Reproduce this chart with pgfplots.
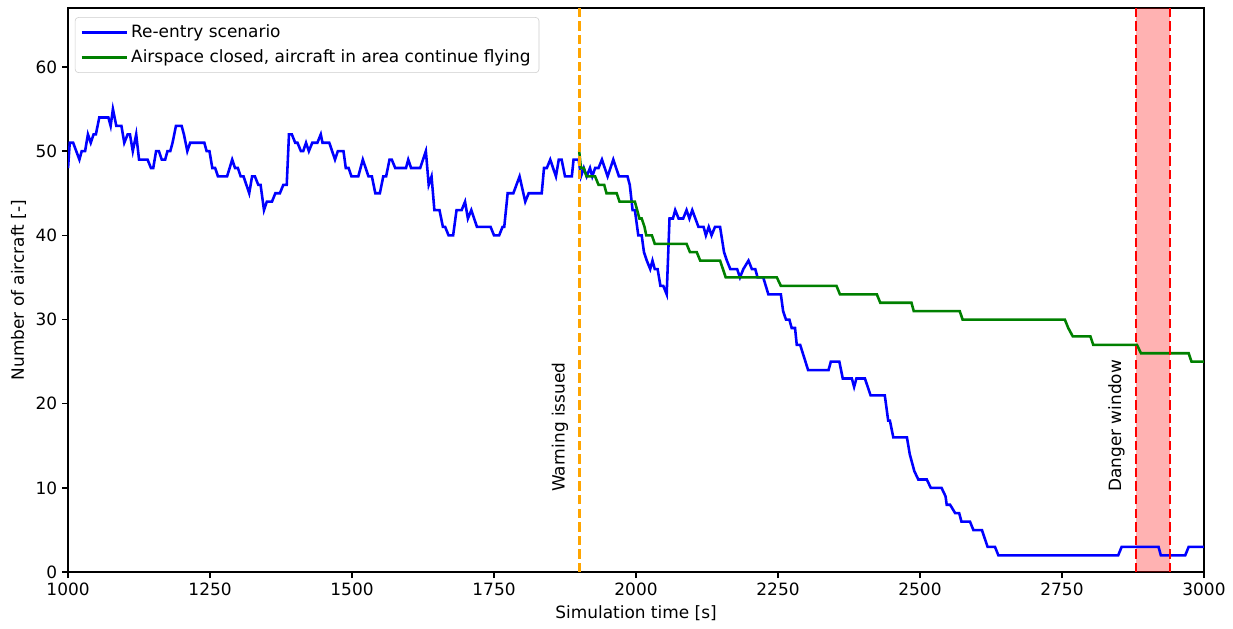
\documentclass[border=0pt]{standalone}
\usepackage{pgfplots}
\pgfplotsset{compat=1.18}
\usepackage{fontspec}
\setmainfont{DejaVu Sans}
\definecolor{mplgreen}{RGB}{0,128,0}
\definecolor{mplorange}{RGB}{255,165,0}
\newcommand{\mplfont}{\fontsize{12.2}{14.6}\selectfont}
\begin{document}
\begin{tikzpicture}
\useasboundingbox (-49pt,-40.3pt) rectangle (838.9pt,412pt);
\begin{axis}[
  scale only axis,
  width=818pt, height=406.2pt,
  xmin=1000, xmax=3000, ymin=0, ymax=67,
  xtick={1000,1250,1500,1750,2000,2250,2500,2750,3000},
  ytick={0,10,20,30,40,50,60},
  tick align=outside, tick pos=left,
  major tick length=4.3pt,
  every tick/.style={black, line width=1pt},
  axis line style={line width=1pt},
  /pgf/number format/assume math mode=true,
  /pgf/number format/1000 sep={},
  ticklabel style={font=\mplfont},
  label style={font=\mplfont},
  xlabel={Simulation time [s]},
  ylabel={Number of aircraft [-]},
  legend cell align=left,
  legend style={at={(0.006,0.984)}, anchor=north west, draw=black!20, rounded corners=2.5pt,
    fill=white, fill opacity=0.8, text opacity=1, font=\mplfont,
    inner xsep=4pt, inner ysep=3.5pt, row sep=3.3pt},
  legend image code/.code={\path (0pt,0pt) -- (32.5pt,0pt);\draw[#1, line width=1.85pt] (0pt,0pt) -- (24.5pt,0pt);},
]
% danger window shading
\addplot[draw=none, fill=red, fill opacity=0.3, forget plot] coordinates {(2880,0) (2940,0) (2940,67) (2880,67)} -- cycle;

\addplot[blue, line width=1.85pt] coordinates {
(1000,48) (1003,51) (1009,51) (1020,49) (1024,50) (1030,50) (1035,52) (1040,51) (1045,52) (1049,52)
(1055,54) (1071,54) (1075,53) (1079,55) (1085,53) (1094,53) (1099,51) (1105,52) (1109,52) (1114,50)
(1120,52) (1125,49) (1140,49) (1146,48) (1150,48) (1155,50) (1160,50) (1165,49) (1171,49) (1175,50)
(1180,50) (1184,51) (1190,53) (1200,53) (1204,52) (1210,50) (1215,51) (1240,51) (1244,50) (1249,50)
(1254,48) (1259,48) (1264,47) (1280,47) (1289,49) (1294,48) (1299,48) (1304,47) (1309,47) (1319,45)
(1324,47) (1329,47) (1335,46) (1339,46) (1345,43) (1350,44) (1359,44) (1365,45) (1373,45) (1379,46)
(1385,46) (1389,52) (1394,52) (1400,51) (1404,51) (1410,50) (1414,50) (1419,51) (1424,50) (1430,51)
(1439,51) (1445,52) (1448,51) (1460,51) (1470,49) (1475,50) (1485,50) (1489,48) (1494,48) (1499,47)
(1511,47) (1519,49) (1529,47) (1535,47) (1541,45) (1549,45) (1555,47) (1560,47) (1566,49) (1570,49)
(1576,48) (1595,48) (1599,49) (1604,48) (1620,48) (1630,50) (1635,46) (1640,47) (1645,43) (1654,43)
(1660,41) (1664,41) (1670,40) (1678,40) (1684,43) (1693,43) (1699,44) (1704,42) (1710,43) (1720,41)
(1744,41) (1750,40) (1759,40) (1765,41) (1768,41) (1774,45) (1784,45) (1795,47) (1805,44) (1811,45)
(1834,45) (1838,48) (1843,48) (1849,49) (1859,47) (1864,49) (1869,49) (1875,47) (1887,47) (1890,49)
(1899,49) (1903,47) (1908,48) (1913,47) (1919,48) (1923,47) (1928,48) (1934,48) (1940,49) (1950,47)
(1960,49) (1970,47) (1985,47) (1989,46) (1994,43) (1998,43) (2004,40) (2010,40) (2014,38) (2019,37)
(2025,36) (2029,37) (2033,36) (2038,36) (2043,34) (2048,34) (2054,33) (2059,42) (2065,42) (2069,43)
(2075,42) (2083,42) (2089,43) (2094,42) (2099,43) (2110,41) (2119,41) (2123,40) (2128,41) (2133,40)
(2139,41) (2148,41) (2155,38) (2160,37) (2166,36) (2178,36) (2183,35) (2189,36) (2198,37) (2204,36)
(2210,36) (2214,35) (2224,35) (2233,33) (2255,33) (2259,31) (2264,30) (2270,30) (2274,29) (2280,29)
(2283,27) (2289,27) (2303,24) (2339,24) (2343,25) (2358,25) (2364,23) (2380,23) (2384,22) (2388,23)
(2403,23) (2413,21) (2438,21) (2444,18) (2447,18) (2453,16) (2477,16) (2482,14) (2490,12) (2497,11)
(2512,11) (2519,10) (2538,10) (2545,9) (2547,8) (2553,8) (2562,7) (2569,7) (2573,6) (2588,6)
(2594,5) (2609,5) (2619,3) (2632,3) (2638,2) (2849,2) (2855,3) (2920,3) (2924,2) (2967,2)
(2973,3) (3000,3)
};
\addlegendentry{Re-entry scenario}

\addplot[mplgreen, line width=1.85pt] coordinates {
(1900,50) (1903,48) (1908,48) (1913,47) (1928,47) (1934,46) (1944,46) (1948,45) (1966,45) (1971,44)
(1998,44) (2002,43) (2006,42) (2010,42) (2015,41) (2018,40) (2028,40) (2033,39) (2089,39) (2095,38)
(2107,38) (2113,37) (2148,37) (2153,36) (2158,35) (2248,35) (2255,34) (2353,34) (2359,33) (2424,33)
(2430,32) (2485,32) (2489,31) (2570,31) (2575,30) (2755,30) (2761,29) (2769,28) (2800,28) (2805,27)
(2882,27) (2889,26) (2973,26) (2978,25) (3000,25)
};
\addlegendentry{Airspace closed, aircraft in area continue flying}

\addplot[mplorange, line width=1.85pt, dash pattern=on 6.8pt off 2.95pt, forget plot] coordinates {(1900,0) (1900,67)};
\addplot[red, line width=1.85pt, dash pattern=on 6.8pt off 2.95pt, forget plot] coordinates {(2880,0) (2880,67)};
\addplot[red, line width=1.85pt, dash pattern=on 6.8pt off 2.95pt, forget plot] coordinates {(2940,0) (2940,67)};

\node[rotate=90, anchor=south west, inner sep=0pt, font=\mplfont] at (axis cs:1881,9.5) {Warning issued};
\node[rotate=90, anchor=south west, inner sep=0pt, font=\mplfont] at (axis cs:2861,9.5) {Danger window};
\end{axis}
\end{tikzpicture}
\end{document}
